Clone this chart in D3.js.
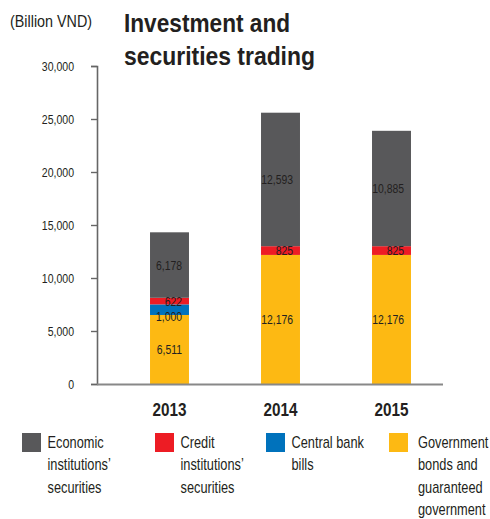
<!DOCTYPE html>
<html>
<head>
<meta charset="utf-8">
<script src="https://cdn.jsdelivr.net/npm/d3@7/dist/d3.min.js"></script>
<style>
  html, body { margin: 0; padding: 0; background: #fff; }
  svg { display: block; }
  text { font-family: "Liberation Sans", Arial, sans-serif; fill: #231f20; }
</style>
</head>
<body>
<svg id="chart" width="490" height="519"></svg>
<script>
// Investment and securities trading, billion VND, by year
const years = ["2013", "2014", "2015"];
const government = [6511, 12176, 12176];
const centralBank = [1000, 0, 0];
const credit = [622, 825, 825];
const economic = [6178, 12593, 10885];
const yTicks = [0, 5000, 10000, 15000, 20000, 25000, 30000];

// Stack order from the baseline upward
const seriesKeys = ["government", "centralBank", "credit", "economic"];
const seriesValues = { government, centralBank, credit, economic };
const colors = {
  economic: "#58585a",
  credit: "#ed1c24",
  centralBank: "#0072bc",
  government: "#fdb913"
};
const legendItems = [
  { key: "economic", lines: ["Economic", "institutions’", "securities"] },
  { key: "credit", lines: ["Credit", "institutions’", "securities"] },
  { key: "centralBank", lines: ["Central bank", "bills"] },
  { key: "government", lines: ["Government", "bonds and", "guaranteed", "government"] }
];

const rows = years.map((year, i) => {
  const r = { year };
  seriesKeys.forEach(k => { r[k] = seriesValues[k][i]; });
  return r;
});

const svg = d3.select("#chart");
const fmt = d3.format(",");

// Condensed text: a regular face squeezed horizontally around its anchor point
function label(parent, x, y, str, size, opts = {}) {
  const sx = opts.sx || 0.8;
  const t = parent.append("text")
    .attr("transform", `translate(${x},${y}) scale(${sx},1)`)
    .attr("text-anchor", opts.anchor || "start")
    .attr("dy", opts.dy || null)
    .style("font-size", size + "px")
    .style("font-weight", opts.bold ? "bold" : null)
    .text(str);
  if (opts.width) {
    const w = t.node().getComputedTextLength();
    t.attr("transform", `translate(${x},${y}) scale(${opts.width / w},1)`);
  }
  return t;
}

const y = d3.scaleLinear().domain([0, 30000]).range([384, 66]);
const x = d3.scaleBand().domain(years).range([114, 447])
  .paddingInner(0.649).paddingOuter(0.3245);

// Unit label and title
label(svg, 10, 27, "(Billion VND)", 16, { width: 82 });
label(svg, 124, 32, "Investment and", 25, { bold: true, width: 166 });
label(svg, 124, 65, "securities trading", 25, { bold: true, width: 191 });

// Y axis
const yAxis = svg.append("g").attr("transform", "translate(97,0)")
  .call(d3.axisLeft(y).tickValues(yTicks).tickSize(6).tickSizeOuter(6)
    .tickFormat(() => ""));
yAxis.select(".domain").attr("stroke", "#666").attr("stroke-width", 1.6);
yAxis.selectAll(".tick line").attr("stroke", "#666").attr("stroke-width", 1.4);
yAxis.selectAll(".tick").each(function (d) {
  label(d3.select(this), -23, 0, d === 0 ? "0" : fmt(d), 13, { anchor: "end", dy: "0.35em", sx: 0.81 });
});

// Stacked bars
const stack = d3.stack().keys(seriesKeys)(rows);
const layers = svg.append("g").selectAll("g").data(stack).join("g")
  .attr("fill", d => colors[d.key]);
layers.selectAll("rect").data(d => d.map(s => ({ key: d.key, s })))
  .join("rect")
  .attr("x", d => x(d.s.data.year))
  .attr("width", x.bandwidth())
  .attr("y", d => y(d.s[1]))
  .attr("height", d => y(d.s[0]) - y(d.s[1]));

// Baseline
svg.append("line").attr("x1", 97).attr("x2", 443).attr("y1", 384.5).attr("y2", 384.5)
  .attr("stroke", "#888").attr("stroke-width", 2);

// Value labels, right-aligned inside each bar, nudged apart when segments are thin
const valueLayer = svg.append("g");
years.forEach((year, i) => {
  const labels = [];
  stack.forEach(layer => {
    const s = layer[i];
    const v = s[1] - s[0];
    if (v > 0) labels.push({ v, cy: (y(s[0]) + y(s[1])) / 2 });
  });
  // labels are ordered bottom-up; keep each one at least 15px below the one above it
  for (let j = labels.length - 2; j >= 0; j--) {
    const gap = labels[j].cy - labels[j + 1].cy;
    if (gap < 15) labels[j].cy = labels[j + 1].cy + 15;
  }
  labels.forEach(l => {
    label(valueLayer, x(year) + x.bandwidth() - 7, l.cy, fmt(l.v), 13.5,
      { anchor: "end", dy: "0.35em", sx: 0.77 });
  });
});

// Year labels
years.forEach(yr => {
  label(svg, x(yr) + x.bandwidth() / 2, 416, yr, 18, { anchor: "middle", bold: true, sx: 0.85 });
});

// Legend
const legendX = [22, 155, 266, 389];
const legend = svg.append("g").selectAll("g").data(legendItems).join("g")
  .attr("transform", (d, i) => `translate(${legendX[i]},433)`);
legend.append("rect").attr("width", 19).attr("height", 19)
  .attr("fill", d => colors[d.key]);
legend.each(function (d) {
  const g = d3.select(this);
  const tx = d.key === "government" ? 29 : 25.5;
  d.lines.forEach((line, k) => {
    label(g, tx, 9.5 + k * 22.3, line, 16, { dy: "0.35em", sx: 0.8 });
  });
});
</script>
</body>
</html>
